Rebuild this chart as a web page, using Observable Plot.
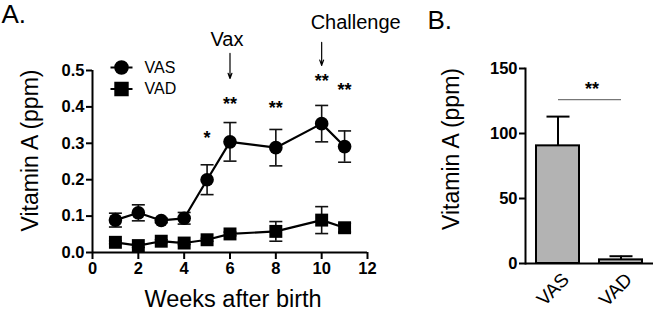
<!DOCTYPE html>
<html>
<head>
<meta charset="utf-8">
<script src="https://cdn.jsdelivr.net/npm/d3@7"></script>
<script src="https://cdn.jsdelivr.net/npm/@observablehq/plot@0.6"></script>
<style>
  html, body { margin: 0; padding: 0; background: white; }
  #wrap { position: relative; width: 656px; height: 311px; overflow: hidden; }
  #a { position: absolute; left: 0; top: 0; }
  #b { position: absolute; left: 430px; top: 0; }
</style>
</head>
<body>
<div id="wrap"><div id="a"></div><div id="b"></div></div>
<script>
// ---------- Panel A data ----------
const weeks   = [1, 2, 3, 4, 5, 6, 8, 10, 11];
const vasMean = [0.089, 0.109, 0.088, 0.094, 0.200, 0.304, 0.288, 0.354, 0.291];
const vasErr  = [0.019, 0.022, 0.006, 0.016, 0.041, 0.053, 0.050, 0.050, 0.043];
const vadMean = [0.028, 0.019, 0.031, 0.026, 0.035, 0.051, 0.058, 0.089, 0.068];
const vadErr  = [0.004, 0.005, 0.004, 0.004, 0.004, 0.005, 0.027, 0.037, 0.012];
const groups  = ["VAS", "VAD"];

const starWeeks  = [5, 6, 8, 10, 11];
const starLabels = ["*", "**", "**", "**", "**"];
const starLevels = [0.327, 0.420, 0.410, 0.484, 0.459];

const annWeeks  = [6, 10];
const annLabels = ["Vax", "Challenge"];
const annTop    = [0.547, 0.577];
const annBottom = [0.478, 0.514];
const annText   = [0.585, 0.632];

const xTicksA = [0, 2, 4, 6, 8, 10, 12];
const yTicksA = [0, 0.1, 0.2, 0.3, 0.4, 0.5];

// ---------- Panel B data ----------
const barGroups = ["VAS", "VAD"];
const barMeans  = [90.5, 2.8];
const barErr    = [22.5, 2.8];
const yTicksB   = [0, 50, 100, 150];
const sigLevel  = 126;
const sigLabel  = "**";

const FONT = "'Liberation Sans', Arial, Helvetica, sans-serif";

// custom symbols
const capSymbol = { draw(ctx, size) { const r = Math.sqrt(size / Math.PI); ctx.moveTo(-r, 0); ctx.lineTo(r, 0); } };
const legendCircle = { draw(ctx, size) { const r = Math.sqrt(size / Math.PI); ctx.moveTo(r, 0); ctx.arc(0, 0, r, 0, 2 * Math.PI); ctx.moveTo(-11, 0); ctx.lineTo(11, 0); } };
const legendSquare = { draw(ctx, size) { const h = Math.sqrt(size) / 2; ctx.moveTo(-h, -h); ctx.lineTo(h, -h); ctx.lineTo(h, h); ctx.lineTo(-h, h); ctx.closePath(); ctx.moveTo(-11, 0); ctx.lineTo(11, 0); } };

const series = [];
weeks.forEach((w, i) => {
  series.push({group: "VAS", week: w, mean: vasMean[i], lo: vasMean[i] - vasErr[i], hi: vasMean[i] + vasErr[i]});
});
weeks.forEach((w, i) => {
  series.push({group: "VAD", week: w, mean: vadMean[i], lo: vadMean[i] - vadErr[i], hi: vadMean[i] + vadErr[i]});
});
const vasRows = series.filter(d => d.group === "VAS");
const vadRows = series.filter(d => d.group === "VAD");
const stars = starWeeks.map((w, i) => ({week: w, label: starLabels[i], y: starLevels[i]}));
const anns = annWeeks.map((w, i) => ({week: w, label: annLabels[i], top: annTop[i], bottom: annBottom[i], ty: annText[i]}));

const plotA = Plot.plot({
  width: 430, height: 311,
  marginLeft: 92, marginRight: 63, marginTop: 70, marginBottom: 59,
  style: {fontFamily: FONT, fontSize: "16px", fontWeight: "bold", color: "black", background: "white", overflow: "visible"},
  x: {domain: [0, 12]},
  y: {domain: [0, 0.5]},
  marks: [
    Plot.axisX({ticks: xTicksA, tickSize: 7, tickPadding: 3, strokeWidth: 2, label: null, fontSize: 16.5, fontWeight: "bold"}),
    Plot.axisY({ticks: yTicksA, tickSize: 6, tickPadding: 2, strokeWidth: 2, tickFormat: d3.format(".1f"), label: null, fontSize: 16.5, fontWeight: "bold"}),
    Plot.ruleY([0], {strokeWidth: 2}),
    Plot.ruleX([0], {strokeWidth: 2}),
    // error bars
    Plot.ruleX(series, {x: "week", y1: "lo", y2: "hi", stroke: "#111", strokeWidth: 1.6}),
    Plot.dot(series, {x: "week", y: "hi", symbol: capSymbol, r: 6.5, stroke: "#111", strokeWidth: 1.6, fill: "none"}),
    Plot.dot(series, {x: "week", y: "lo", symbol: capSymbol, r: 6.5, stroke: "#111", strokeWidth: 1.6, fill: "none"}),
    // lines
    Plot.line(series, {x: "week", y: "mean", z: "group", stroke: "black", strokeWidth: 2.2}),
    Plot.dot(vasRows, {x: "week", y: "mean", symbol: "circle", r: 6.8, fill: "black", stroke: "none"}),
    Plot.dot(vadRows, {x: "week", y: "mean", symbol: "square", r: 7.3, fill: "black", stroke: "none"}),
    // significance
    Plot.text(stars, {x: "week", y: "y", text: "label", fontSize: 18, fontWeight: "bold", dy: 5}),
    // annotations
    Plot.arrow(anns, {x1: "week", x2: "week", y1: "top", y2: "bottom", stroke: "black", strokeWidth: 1.2, headLength: 7, headAngle: 40}),
    Plot.text(anns.filter(d => d.label === "Vax"), {x: "week", y: "ty", text: "label", fontSize: 20, fontWeight: "normal", dx: -3}),
    Plot.text(anns.filter(d => d.label === "Challenge"), {x: "week", y: "ty", text: "label", fontSize: 20, fontWeight: "normal", textAnchor: "start", dx: -11}),
    // legend
    Plot.dot([groups[0]], {frameAnchor: "top-left", dx: 29, dy: -3, symbol: legendCircle, r: 6.3, fill: "black", stroke: "black", strokeWidth: 2}),
    Plot.dot([groups[1]], {frameAnchor: "top-left", dx: 29, dy: 18.5, symbol: legendSquare, r: 7.0, fill: "black", stroke: "black", strokeWidth: 2}),
    Plot.text([groups[0]], {frameAnchor: "top-left", dx: 52, dy: -3, text: d => d, textAnchor: "start", lineAnchor: "middle", fontSize: 16, fontWeight: "normal"}),
    Plot.text([groups[1]], {frameAnchor: "top-left", dx: 52, dy: 18.5, text: d => d, textAnchor: "start", lineAnchor: "middle", fontSize: 16, fontWeight: "normal"}),
    // titles
    Plot.text(["Vitamin A (ppm)"], {frameAnchor: "left", rotate: -90, dx: -62, dy: -11, text: d => d, textAnchor: "middle", fontSize: 23, fontWeight: "normal", lineAnchor: "middle"}),
    Plot.text(["Weeks after birth"], {frameAnchor: "bottom", dx: 3, dy: 47, text: d => d, textAnchor: "middle", fontSize: 23.5, fontWeight: "normal", lineAnchor: "middle"}),
    Plot.text(["A."], {frameAnchor: "top-left", dx: -91, dy: -66, text: d => d, fontSize: 26, fontWeight: "normal", textAnchor: "start", lineAnchor: "top"})
  ]
});
document.getElementById("a").appendChild(plotA);

const bars = barGroups.map((g, i) => ({group: g, mean: barMeans[i], hi: barMeans[i] + barErr[i]}));

const plotB = Plot.plot({
  width: 226, height: 311,
  marginLeft: 95, marginRight: 3, marginTop: 68, marginBottom: 48,
  style: {fontFamily: FONT, fontSize: "16px", fontWeight: "bold", color: "black", background: "white", overflow: "visible"},
  x: {domain: barGroups, type: "band", paddingInner: 0.31, paddingOuter: 0.163},
  y: {domain: [0, 150]},
  marks: [
    Plot.axisY({ticks: yTicksB, tickSize: 6, tickPadding: 2, strokeWidth: 2, label: null, fontSize: 16.5, fontWeight: "bold"}),
    Plot.axisX({tickSize: 0, tickPadding: 0, tickRotate: -45, textAnchor: "end", lineAnchor: "middle", dx: 8, dy: 13, label: null, fontSize: 19, fontWeight: "normal"}),
    Plot.ruleX(bars, {x: "group", y1: "mean", y2: "hi", stroke: "black", strokeWidth: 2}),
    Plot.dot(bars, {x: "group", y: "hi", symbol: capSymbol, r: 11.5, stroke: "black", strokeWidth: 2, fill: "none"}),
    Plot.barY(bars, {x: "group", y: "mean", fill: "#b3b3b3", stroke: "black", strokeWidth: 2}),
    Plot.ruleY([0], {strokeWidth: 2}),
    Plot.frame({anchor: "left", strokeWidth: 2}),
    Plot.link([{a: barGroups[0], b: barGroups[1], y: sigLevel}], {x1: "a", x2: "b", y1: "y", y2: "y", stroke: "#777", strokeWidth: 1.3}),
    Plot.text([sigLabel], {x: () => barGroups[0], y: () => sigLevel, text: d => d, dx: 34, dy: -10, fontSize: 18, fontWeight: "bold"}),
    Plot.text(["Vitamin A (ppm)"], {frameAnchor: "left", rotate: -90, dx: -74, dy: -17, text: d => d, textAnchor: "middle", fontSize: 23, fontWeight: "normal", lineAnchor: "middle"}),
    Plot.text(["B."], {frameAnchor: "top-left", dx: -98, dy: -58, text: d => d, fontSize: 26, fontWeight: "normal", textAnchor: "start", lineAnchor: "top"})
  ]
});
document.getElementById("b").appendChild(plotB);
</script>
</body>
</html>
